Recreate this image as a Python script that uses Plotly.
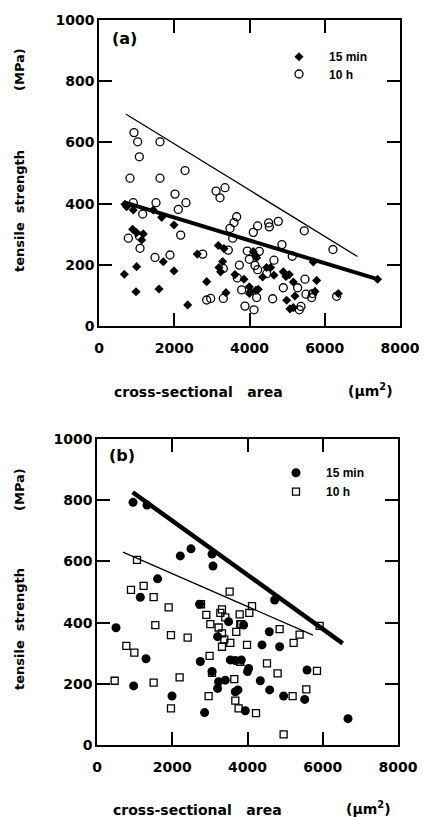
import plotly.graph_objects as go

# ---------------- Panel (a) data ----------------
a15_x = [690, 735, 912, 1443, 1665, 1993, 895, 1000, 1178, 1134, 1000, 673, 1709, 1993, 984, 1595, 2357, 2613, 2862,
         3171, 3321, 3286, 3189, 3232, 3375, 3614, 3853, 3995, 4030, 4172, 4234, 4154, 4190, 4349, 4455, 4562, 4650,
         4898, 4969, 5058, 4987, 5075, 5164, 5208, 5164, 5696, 5784, 5740, 6360, 7405, 4000, 4100]
a15_y = [398, 390, 379, 379, 355, 330, 316, 305, 301, 281, 194, 169, 210, 180, 112, 121, 69, 235, 145,
         263, 253, 211, 191, 177, 109, 168, 153, 128, 113, 117, 120, 231, 223, 160, 191, 191, 166,
         177, 162, 168, 84, 56, 60, 98, 144, 209, 149, 113, 106, 153, 106, 243]

a10_x = [930, 1028, 1621, 1072, 824, 1621, 2286, 2020, 2312, 2108, 1515, 912, 1161, 3110, 3349, 3216, 3659, 3588,
         3482, 3553, 780, 1072, 2171, 1090, 1488, 1887, 2756, 3437, 3730, 3304, 3792, 2862, 2968, 3304, 3880,
         3676, 3941, 3995, 4145, 4216, 4260, 4101, 4216, 4119, 4190, 4455, 4615, 4650, 4509, 4527, 4765, 4862,
         5137, 4898, 5279, 5474, 5501, 5652, 5679, 5368, 5323, 6218, 6315, 5456]
a10_y = [632, 602, 602, 553, 483, 483, 508, 431, 403, 381, 403, 403, 366, 441, 452, 419, 357, 338,
         319, 287, 287, 294, 297, 254, 224, 232, 235, 248, 199, 188, 118, 85, 90, 90, 65,
         157, 245, 218, 198, 184, 244, 306, 327, 53, 93, 171, 89, 215, 337, 324, 342, 266,
         228, 125, 125, 153, 104, 93, 106, 64, 53, 250, 97, 311]

a_fit10_x = [710, 6870]
a_fit10_y = [693, 227]
a_fit15_x = [700, 7400]
a_fit15_y = [403, 153]

# ---------------- Panel (b) data ----------------
b15_x = [957, 1329, 2214, 2498, 3057, 3083, 1611, 1151, 505, 1302, 2746, 974, 1993, 2860, 2727, 3498, 3205, 3543,
         3676, 3057, 3232, 3410, 3205, 3676, 4721, 4580, 4385, 4854, 3897, 3835, 4030, 4000, 4341, 4589, 4960,
         5582, 5520, 6671, 3747, 3942]
b15_y = [793, 784, 618, 641, 624, 585, 543, 483, 383, 282, 273, 193, 160, 106, 460, 403, 354, 278,
         276, 240, 207, 212, 185, 174, 474, 370, 327, 321, 392, 278, 250, 240, 210, 180, 160,
         245, 149, 86, 180, 112]

b10_x = [1063, 903, 1240, 1505, 1904, 1550, 1966, 2409, 779, 992, 469, 1505, 2196, 1966, 3525, 2764, 2905, 3012,
         3278, 3322, 3410, 3232, 3322, 3383, 3322, 3543, 3702, 3792, 3809, 2993, 3057, 3649, 2966, 3676, 3764,
         4120, 4048, 3835, 4854, 5385, 5226, 3987, 3809, 4518, 4800, 5847, 5563, 5199, 4226, 4960, 5917]
b10_y = [605, 507, 520, 483, 450, 392, 359, 351, 324, 302, 210, 204, 221, 120, 501, 460, 425, 395,
         432, 443, 417, 384, 365, 345, 321, 334, 370, 427, 395, 291, 236, 215, 160, 145, 120,
         454, 432, 394, 379, 361, 334, 327, 272, 267, 234, 242, 182, 160, 104, 35, 389]

b_fit15_x = [947, 6529]
b_fit15_y = [826, 332]
b_fit10_x = [691, 5741]
b_fit10_y = [630, 359]

x_ticks = [0, 2000, 4000, 6000, 8000]
y_ticks = [0, 200, 400, 600, 800, 1000]
series_names = ["15 min", "10 h"]

W, H = 423, 817
FONT = "DejaVu Sans"

def px(xp):
    return xp / W

def py(yp):
    return 1 - yp / H

fig = go.Figure()

# panel (a)
fig.add_trace(go.Scatter(x=a_fit10_x, y=a_fit10_y, mode="lines", line=dict(color="black", width=1.3),
                         showlegend=False, xaxis="x", yaxis="y"))
fig.add_trace(go.Scatter(x=a_fit15_x, y=a_fit15_y, mode="lines", line=dict(color="black", width=4),
                         showlegend=False, xaxis="x", yaxis="y"))
fig.add_trace(go.Scatter(x=a15_x, y=a15_y, mode="markers", name=series_names[0],
                         marker=dict(symbol="diamond", size=7, color="black"),
                         xaxis="x", yaxis="y", legend="legend"))
fig.add_trace(go.Scatter(x=a10_x, y=a10_y, mode="markers", name=series_names[1],
                         marker=dict(symbol="circle-open", size=8, color="black", line=dict(width=1.3)),
                         xaxis="x", yaxis="y", legend="legend2"))

# panel (b)
fig.add_trace(go.Scatter(x=b_fit10_x, y=b_fit10_y, mode="lines", line=dict(color="black", width=1.3),
                         showlegend=False, xaxis="x2", yaxis="y2"))
fig.add_trace(go.Scatter(x=b_fit15_x, y=b_fit15_y, mode="lines", line=dict(color="black", width=4.5),
                         showlegend=False, xaxis="x2", yaxis="y2"))
fig.add_trace(go.Scatter(x=b15_x, y=b15_y, mode="markers", name=series_names[0],
                         marker=dict(symbol="circle", size=9, color="black"),
                         xaxis="x2", yaxis="y2", legend="legend3"))
fig.add_trace(go.Scatter(x=b10_x, y=b10_y, mode="markers", name=series_names[1],
                         marker=dict(symbol="square-open", size=7, color="black", line=dict(width=1.3)),
                         xaxis="x2", yaxis="y2", legend="legend4"))

tickfont = dict(family=FONT, size=14, color="black", weight="bold")
common_x = dict(range=[0, 8000], tickvals=x_ticks, ticktext=[str(v) for v in x_ticks],
                ticks="inside", ticklen=13, tickwidth=1.5, tickcolor="black",
                showline=True, linewidth=1.5, linecolor="black", mirror="allticks",
                showgrid=False, zeroline=False, tickfont=tickfont, ticklabelstandoff=8,
                automargin=False)
common_y = dict(range=[0, 1000], tickvals=y_ticks, ticktext=[str(v) for v in y_ticks],
                ticks="inside", ticklen=13, tickwidth=1.5, tickcolor="black",
                showline=True, linewidth=1.5, linecolor="black", mirror="allticks",
                showgrid=False, zeroline=False, tickfont=tickfont, ticklabelstandoff=0,
                automargin=False)

legfont = dict(family="Liberation Sans", size=12, color="black", weight="bold")

def leg(xp, yp):
    return dict(x=px(xp), y=py(yp), xanchor="left", yanchor="middle", font=legfont,
                bgcolor="rgba(0,0,0,0)", itemwidth=50, borderwidth=0)

fig.update_layout(
    width=W, height=H,
    margin=dict(l=0, r=0, t=0, b=0, pad=0, autoexpand=False),
    paper_bgcolor="white", plot_bgcolor="white",
    xaxis=dict(domain=[px(99), px(400)], anchor="y", **common_x),
    yaxis=dict(domain=[py(326), py(20)], anchor="x", **common_y),
    xaxis2=dict(domain=[px(97), px(398)], anchor="y2", **common_x),
    yaxis2=dict(domain=[py(745), py(439)], anchor="x2", **common_y),
    legend=leg(269, 56.7),
    legend2=leg(269, 74),
    legend3=leg(266, 472.7),
    legend4=leg(266, 491.7),
    showlegend=True,
)

titlefont_y = dict(family=FONT, size=13, color="black", weight="bold")
titlefont_x = dict(family=FONT, size=14, color="black", weight="bold")
annots = [
    # panel (a)
    dict(text="(a)", x=px(125), y=py(38.5), font=dict(family=FONT, size=16, color="black", weight="bold")),
    dict(text="(MPa)", x=px(19), y=py(70), textangle=-90, font=titlefont_y),
    dict(text="tensile\u00a0\u00a0strength", x=px(19), y=py(211), textangle=-90, font=titlefont_y),
    dict(text="cross-sectional\u00a0\u00a0\u00a0area", x=px(198), y=py(392), font=titlefont_x),
    dict(text="(µm<sup>2</sup>)", x=px(370), y=py(390), font=titlefont_x),
    # panel (b)
    dict(text="(b)", x=px(121.5), y=py(455.5), font=dict(family=FONT, size=16, color="black", weight="bold")),
    dict(text="(MPa)", x=px(19), y=py(490), textangle=-90, font=titlefont_y),
    dict(text="tensile\u00a0\u00a0strength", x=px(19), y=py(629), textangle=-90, font=titlefont_y),
    dict(text="cross-sectional\u00a0\u00a0\u00a0area", x=px(197), y=py(810), font=titlefont_x),
    dict(text="(µm<sup>2</sup>)", x=px(368), y=py(808), font=titlefont_x),
]
for a in annots:
    a.update(xref="paper", yref="paper", showarrow=False, xanchor="center", yanchor="middle")
fig.update_layout(annotations=annots)

fig.write_html("out.html",
               config={"displayModeBar": False},
               post_script="document.body.style.margin='0';document.body.style.overflow='hidden';")
